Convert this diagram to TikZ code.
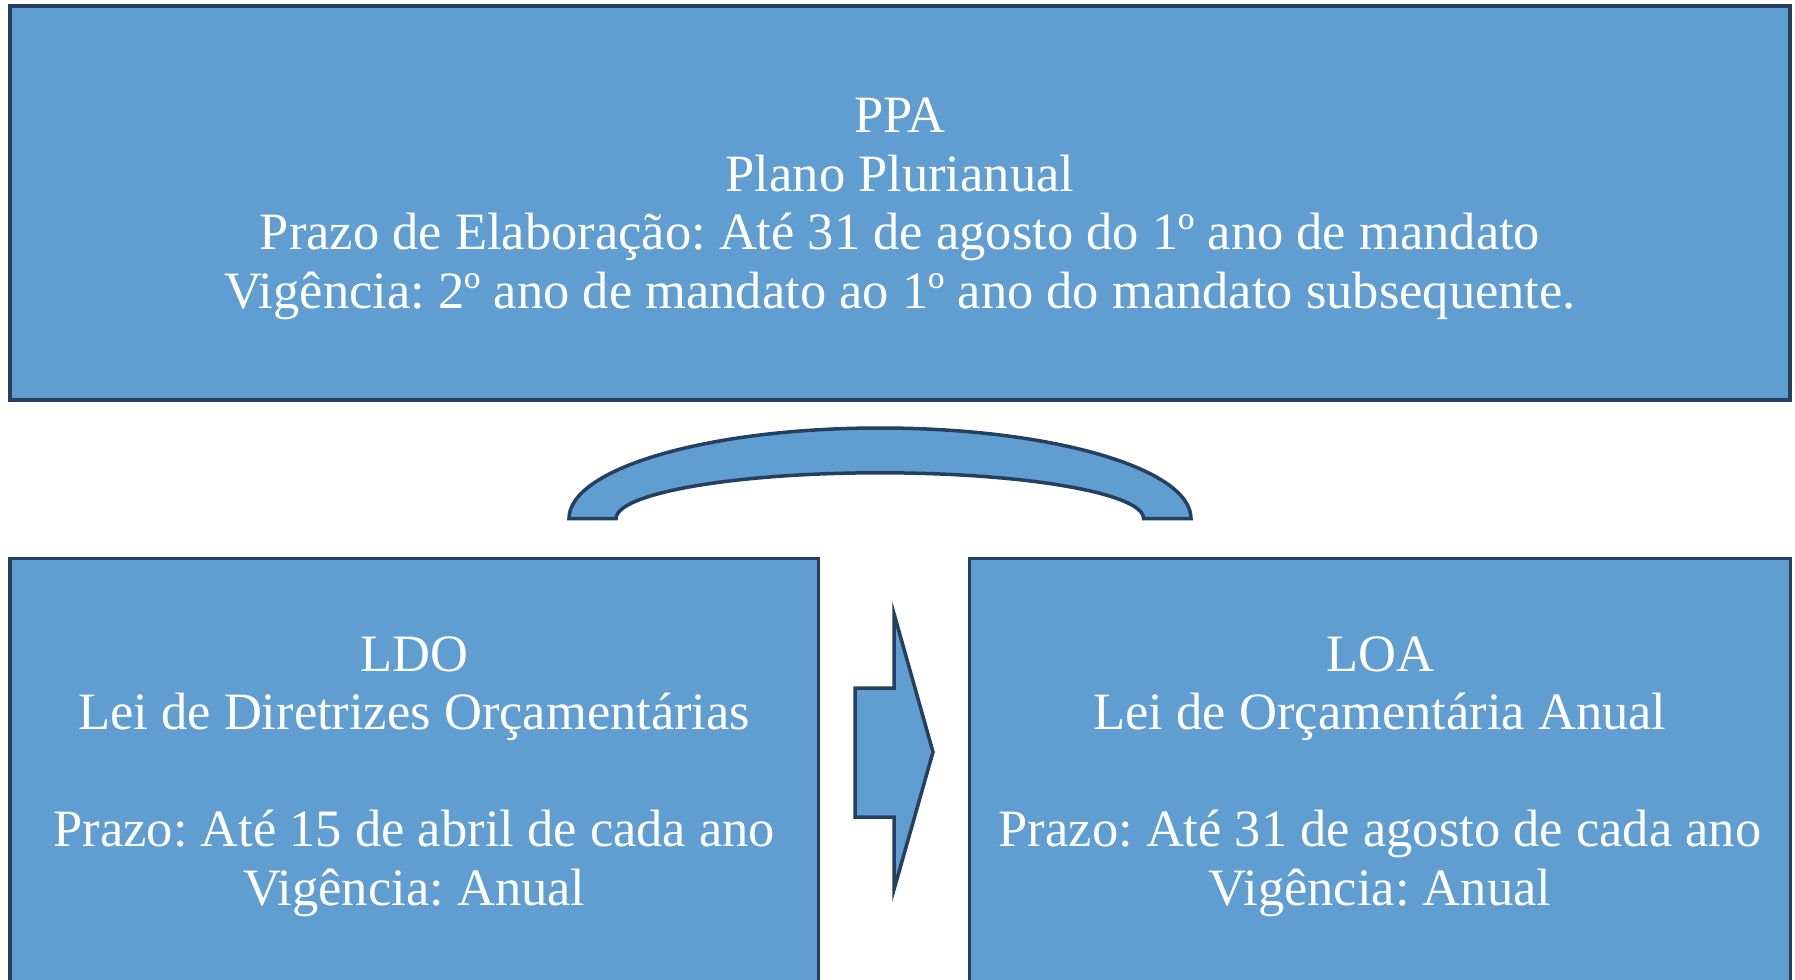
\documentclass[tikz,border=0pt]{standalone}
\usepackage{fontspec}
\setmainfont{Liberation Serif}
\frenchspacing
\definecolor{boxfill}{HTML}{609DD0}
\definecolor{boxline}{HTML}{24405E}
\begin{document}
\begin{tikzpicture}[x=0.4pt,y=-0.4pt,
  box/.style={draw=boxline, fill=boxfill, line width=1.4pt, rectangle, inner sep=0pt},
  boxtext/.style={align=center, text=white, inner sep=0pt, yshift=-2.3pt,
    font=\fontsize{21}{23.4}\selectfont\frenchspacing},
  shapestyle/.style={draw=boxline, fill=boxfill, line width=1.4pt, line join=miter}]
\clip (0,0) rectangle (1795,980);
\fill[white] (0,0) rectangle (1795,980);
\node[box, minimum width=712pt, minimum height=157.6pt] (ppa) at (900,203) {};
\node[boxtext] (ppatext) at (ppa.center)
  {PPA\\Plano Plurianual\\Prazo de Elaboração: Até 31 de agosto do 1º ano de mandato\\Vigência: 2º ano de mandato ao 1º ano do mandato subsequente.};
\node[box, minimum width=323.4pt, minimum height=169.84pt] (ldo) at (414.25,771) {};
\node[boxtext] (ldotext) at (ldo.center)
  {LDO\\Lei de Diretrizes Orçamentárias\\[23.4pt]Prazo: Até 15 de abril de cada ano\\Vigência: Anual};
\node[box, minimum width=328.4pt, minimum height=169.84pt] (loa) at (1380,771) {};
\node[boxtext] (loatext) at (loa.center)
  {LOA\\Lei de Orçamentária Anual\\[23.4pt]Prazo: Até 31 de agosto de cada ano\\Vigência: Anual};
% arc shape
\draw[shapestyle] (569,518.6) arc[start angle=180, end angle=0, x radius=124.4pt, y radius=36.24pt]
  -- (1143.6,518.6) arc[start angle=0, end angle=180, x radius=105.5pt, y radius=18.32pt] -- cycle;
% arrow shape
\draw[shapestyle] (855,688) -- (894,688) -- (894,613.6) -- (933,752) -- (894,889.5) -- (894,817) -- (855,817) -- cycle;
\end{tikzpicture}
\end{document}
